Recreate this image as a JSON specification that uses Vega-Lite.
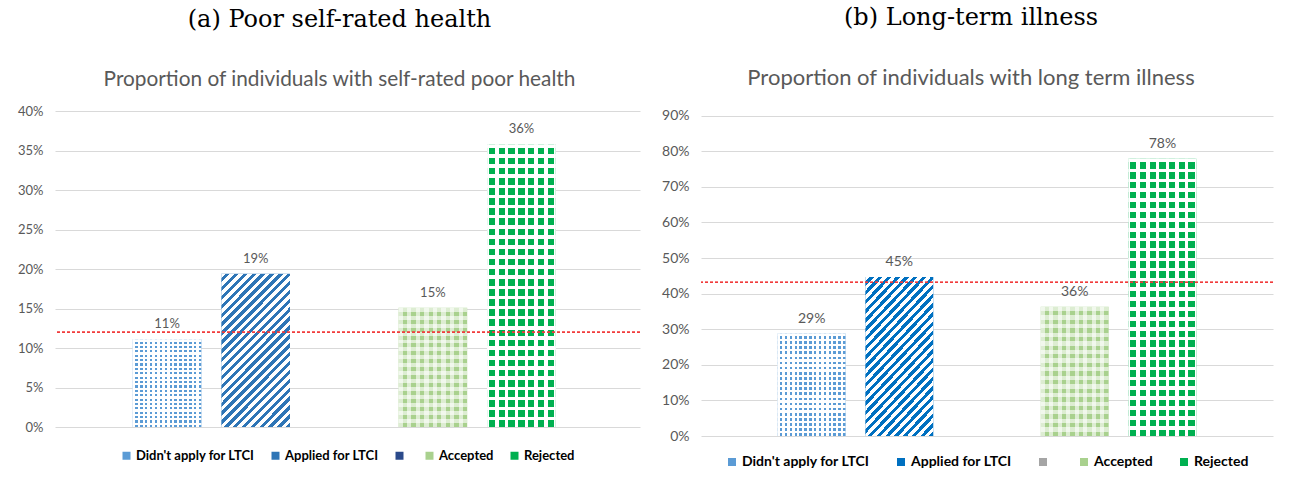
{
  "$schema": "https://vega.github.io/schema/vega-lite/v6.json",
  "padding": {"left": 17, "top": 5, "right": 5, "bottom": 5},
  "background": "#ffffff",
  "spacing": 20,
  "datasets": {
    "a": [
      {"group": "Didn't apply for LTCI", "value": 0.111},
      {"group": "Applied for LTCI", "value": 0.194},
      {"group": "Accepted", "value": 0.151},
      {"group": "Rejected", "value": 0.358}
    ],
    "b": [
      {"group": "Didn't apply for LTCI", "value": 0.288},
      {"group": "Applied for LTCI", "value": 0.447},
      {"group": "Accepted", "value": 0.363},
      {"group": "Rejected", "value": 0.779}
    ]
  },
  "hconcat": [
    {
      "width": 585,
      "height": 316,
      "title": {"text": "(a) Poor self-rated health", "subtitle": "Proportion of individuals with self-rated poor health", "dx": -8, "offset": 15},
      "data": {"name": "a"},
      "layer": [
        {
          "encoding": {
            "x": {"field": "group", "type": "nominal", "scale": {"domain": ["Didn't apply for LTCI", "Applied for LTCI", " ", "Accepted", "Rejected"], "paddingInner": 0.225, "paddingOuter": 0.914, "align": 0.48}, "axis": null},
            "y": {"field": "value", "type": "quantitative", "scale": {"domain": [0, 0.4], "nice": false}, "axis": {"values": [0, 0.05, 0.1, 0.15, 0.2, 0.25, 0.3, 0.35, 0.4], "format": ".0%", "labelOverlap": false}}
          },
          "layer": [
            {"mark": {"type": "bar"}, "encoding": {"color": {"field": "group", "type": "nominal", "scale": {"domain": ["Didn't apply for LTCI", "Applied for LTCI", " ", "Accepted", "Rejected"], "range": ["#5b9bd5", "#2e75b6", "#2b4a8b", "#a9d18e", "#00b050"]}, "legend": {"title": null}}}},
            {"transform": [{"filter": "datum.group === \"Didn't apply for LTCI\""}], "mark": {"type": "bar", "fill": {"gradient": "linear", "x1": 0, "y1": 0, "x2": 1, "y2": 0, "stops": [
        {"offset": 0, "color": "#fff"}, {"offset": 0.0357, "color": "#fff"}, {"offset": 0.0357, "color": "#fff0"}, {"offset": 0.0714, "color": "#fff0"},
        {"offset": 0.0714, "color": "#fff"}, {"offset": 0.1071, "color": "#fff"}, {"offset": 0.1071, "color": "#fff0"}, {"offset": 0.1429, "color": "#fff0"},
        {"offset": 0.1429, "color": "#fff"}, {"offset": 0.1786, "color": "#fff"}, {"offset": 0.1786, "color": "#fff0"}, {"offset": 0.2143, "color": "#fff0"},
        {"offset": 0.2143, "color": "#fff"}, {"offset": 0.25, "color": "#fff"}, {"offset": 0.25, "color": "#fff0"}, {"offset": 0.2857, "color": "#fff0"},
        {"offset": 0.2857, "color": "#fff"}, {"offset": 0.3214, "color": "#fff"}, {"offset": 0.3214, "color": "#fff0"}, {"offset": 0.3571, "color": "#fff0"},
        {"offset": 0.3571, "color": "#fff"}, {"offset": 0.3929, "color": "#fff"}, {"offset": 0.3929, "color": "#fff0"}, {"offset": 0.4286, "color": "#fff0"},
        {"offset": 0.4286, "color": "#fff"}, {"offset": 0.4643, "color": "#fff"}, {"offset": 0.4643, "color": "#fff0"}, {"offset": 0.5, "color": "#fff0"},
        {"offset": 0.5, "color": "#fff"}, {"offset": 0.5357, "color": "#fff"}, {"offset": 0.5357, "color": "#fff0"}, {"offset": 0.5714, "color": "#fff0"},
        {"offset": 0.5714, "color": "#fff"}, {"offset": 0.6071, "color": "#fff"}, {"offset": 0.6071, "color": "#fff0"}, {"offset": 0.6429, "color": "#fff0"},
        {"offset": 0.6429, "color": "#fff"}, {"offset": 0.6786, "color": "#fff"}, {"offset": 0.6786, "color": "#fff0"}, {"offset": 0.7143, "color": "#fff0"},
        {"offset": 0.7143, "color": "#fff"}, {"offset": 0.75, "color": "#fff"}, {"offset": 0.75, "color": "#fff0"}, {"offset": 0.7857, "color": "#fff0"},
        {"offset": 0.7857, "color": "#fff"}, {"offset": 0.8214, "color": "#fff"}, {"offset": 0.8214, "color": "#fff0"}, {"offset": 0.8571, "color": "#fff0"},
        {"offset": 0.8571, "color": "#fff"}, {"offset": 0.8929, "color": "#fff"}, {"offset": 0.8929, "color": "#fff0"}, {"offset": 0.9286, "color": "#fff0"},
        {"offset": 0.9286, "color": "#fff"}, {"offset": 0.9643, "color": "#fff"}, {"offset": 0.9643, "color": "#fff0"}, {"offset": 1, "color": "#fff0"}
      ]}}},
            {"transform": [{"filter": "datum.group === \"Didn't apply for LTCI\""}], "mark": {"type": "bar", "fill": {"gradient": "linear", "x1": 0, "y1": 0, "x2": 0, "y2": 1, "stops": [
        {"offset": 0, "color": "#fff"}, {"offset": 0.025, "color": "#fff"}, {"offset": 0.025, "color": "#fff0"}, {"offset": 0.05, "color": "#fff0"},
        {"offset": 0.05, "color": "#fff"}, {"offset": 0.075, "color": "#fff"}, {"offset": 0.075, "color": "#fff0"}, {"offset": 0.1, "color": "#fff0"},
        {"offset": 0.1, "color": "#fff"}, {"offset": 0.125, "color": "#fff"}, {"offset": 0.125, "color": "#fff0"}, {"offset": 0.15, "color": "#fff0"},
        {"offset": 0.15, "color": "#fff"}, {"offset": 0.175, "color": "#fff"}, {"offset": 0.175, "color": "#fff0"}, {"offset": 0.2, "color": "#fff0"},
        {"offset": 0.2, "color": "#fff"}, {"offset": 0.225, "color": "#fff"}, {"offset": 0.225, "color": "#fff0"}, {"offset": 0.25, "color": "#fff0"},
        {"offset": 0.25, "color": "#fff"}, {"offset": 0.275, "color": "#fff"}, {"offset": 0.275, "color": "#fff0"}, {"offset": 0.3, "color": "#fff0"},
        {"offset": 0.3, "color": "#fff"}, {"offset": 0.325, "color": "#fff"}, {"offset": 0.325, "color": "#fff0"}, {"offset": 0.35, "color": "#fff0"},
        {"offset": 0.35, "color": "#fff"}, {"offset": 0.375, "color": "#fff"}, {"offset": 0.375, "color": "#fff0"}, {"offset": 0.4, "color": "#fff0"},
        {"offset": 0.4, "color": "#fff"}, {"offset": 0.425, "color": "#fff"}, {"offset": 0.425, "color": "#fff0"}, {"offset": 0.45, "color": "#fff0"},
        {"offset": 0.45, "color": "#fff"}, {"offset": 0.475, "color": "#fff"}, {"offset": 0.475, "color": "#fff0"}, {"offset": 0.5, "color": "#fff0"},
        {"offset": 0.5, "color": "#fff"}, {"offset": 0.525, "color": "#fff"}, {"offset": 0.525, "color": "#fff0"}, {"offset": 0.55, "color": "#fff0"},
        {"offset": 0.55, "color": "#fff"}, {"offset": 0.575, "color": "#fff"}, {"offset": 0.575, "color": "#fff0"}, {"offset": 0.6, "color": "#fff0"},
        {"offset": 0.6, "color": "#fff"}, {"offset": 0.625, "color": "#fff"}, {"offset": 0.625, "color": "#fff0"}, {"offset": 0.65, "color": "#fff0"},
        {"offset": 0.65, "color": "#fff"}, {"offset": 0.675, "color": "#fff"}, {"offset": 0.675, "color": "#fff0"}, {"offset": 0.7, "color": "#fff0"},
        {"offset": 0.7, "color": "#fff"}, {"offset": 0.725, "color": "#fff"}, {"offset": 0.725, "color": "#fff0"}, {"offset": 0.75, "color": "#fff0"},
        {"offset": 0.75, "color": "#fff"}, {"offset": 0.775, "color": "#fff"}, {"offset": 0.775, "color": "#fff0"}, {"offset": 0.8, "color": "#fff0"},
        {"offset": 0.8, "color": "#fff"}, {"offset": 0.825, "color": "#fff"}, {"offset": 0.825, "color": "#fff0"}, {"offset": 0.85, "color": "#fff0"},
        {"offset": 0.85, "color": "#fff"}, {"offset": 0.875, "color": "#fff"}, {"offset": 0.875, "color": "#fff0"}, {"offset": 0.9, "color": "#fff0"},
        {"offset": 0.9, "color": "#fff"}, {"offset": 0.925, "color": "#fff"}, {"offset": 0.925, "color": "#fff0"}, {"offset": 0.95, "color": "#fff0"},
        {"offset": 0.95, "color": "#fff"}, {"offset": 0.975, "color": "#fff"}, {"offset": 0.975, "color": "#fff0"}, {"offset": 1, "color": "#fff0"}
      ]}}},
            {"transform": [{"filter": "datum.group === 'Applied for LTCI'"}], "mark": {"type": "bar", "fill": {"gradient": "linear", "x1": 0, "y1": 0, "x2": 0.543, "y2": 1.206, "stops": [
        {"offset": 0, "color": "#fff"}, {"offset": 0.02, "color": "#fff"}, {"offset": 0.02, "color": "#fff0"}, {"offset": 0.04, "color": "#fff0"},
        {"offset": 0.04, "color": "#fff"}, {"offset": 0.06, "color": "#fff"}, {"offset": 0.06, "color": "#fff0"}, {"offset": 0.08, "color": "#fff0"},
        {"offset": 0.08, "color": "#fff"}, {"offset": 0.10, "color": "#fff"}, {"offset": 0.10, "color": "#fff0"}, {"offset": 0.12, "color": "#fff0"},
        {"offset": 0.12, "color": "#fff"}, {"offset": 0.14, "color": "#fff"}, {"offset": 0.14, "color": "#fff0"}, {"offset": 0.16, "color": "#fff0"},
        {"offset": 0.16, "color": "#fff"}, {"offset": 0.18, "color": "#fff"}, {"offset": 0.18, "color": "#fff0"}, {"offset": 0.20, "color": "#fff0"},
        {"offset": 0.20, "color": "#fff"}, {"offset": 0.22, "color": "#fff"}, {"offset": 0.22, "color": "#fff0"}, {"offset": 0.24, "color": "#fff0"},
        {"offset": 0.24, "color": "#fff"}, {"offset": 0.26, "color": "#fff"}, {"offset": 0.26, "color": "#fff0"}, {"offset": 0.28, "color": "#fff0"},
        {"offset": 0.28, "color": "#fff"}, {"offset": 0.30, "color": "#fff"}, {"offset": 0.30, "color": "#fff0"}, {"offset": 0.32, "color": "#fff0"},
        {"offset": 0.32, "color": "#fff"}, {"offset": 0.34, "color": "#fff"}, {"offset": 0.34, "color": "#fff0"}, {"offset": 0.36, "color": "#fff0"},
        {"offset": 0.36, "color": "#fff"}, {"offset": 0.38, "color": "#fff"}, {"offset": 0.38, "color": "#fff0"}, {"offset": 0.40, "color": "#fff0"},
        {"offset": 0.40, "color": "#fff"}, {"offset": 0.42, "color": "#fff"}, {"offset": 0.42, "color": "#fff0"}, {"offset": 0.44, "color": "#fff0"},
        {"offset": 0.44, "color": "#fff"}, {"offset": 0.46, "color": "#fff"}, {"offset": 0.46, "color": "#fff0"}, {"offset": 0.48, "color": "#fff0"},
        {"offset": 0.48, "color": "#fff"}, {"offset": 0.50, "color": "#fff"}, {"offset": 0.50, "color": "#fff0"}, {"offset": 0.52, "color": "#fff0"},
        {"offset": 0.52, "color": "#fff"}, {"offset": 0.54, "color": "#fff"}, {"offset": 0.54, "color": "#fff0"}, {"offset": 0.56, "color": "#fff0"},
        {"offset": 0.56, "color": "#fff"}, {"offset": 0.58, "color": "#fff"}, {"offset": 0.58, "color": "#fff0"}, {"offset": 0.60, "color": "#fff0"},
        {"offset": 0.60, "color": "#fff"}, {"offset": 0.62, "color": "#fff"}, {"offset": 0.62, "color": "#fff0"}, {"offset": 0.64, "color": "#fff0"},
        {"offset": 0.64, "color": "#fff"}, {"offset": 0.66, "color": "#fff"}, {"offset": 0.66, "color": "#fff0"}, {"offset": 0.68, "color": "#fff0"},
        {"offset": 0.68, "color": "#fff"}, {"offset": 0.70, "color": "#fff"}, {"offset": 0.70, "color": "#fff0"}, {"offset": 0.72, "color": "#fff0"},
        {"offset": 0.72, "color": "#fff"}, {"offset": 0.74, "color": "#fff"}, {"offset": 0.74, "color": "#fff0"}, {"offset": 0.76, "color": "#fff0"},
        {"offset": 0.76, "color": "#fff"}, {"offset": 0.78, "color": "#fff"}, {"offset": 0.78, "color": "#fff0"}, {"offset": 0.80, "color": "#fff0"},
        {"offset": 0.80, "color": "#fff"}, {"offset": 0.82, "color": "#fff"}, {"offset": 0.82, "color": "#fff0"}, {"offset": 0.84, "color": "#fff0"},
        {"offset": 0.84, "color": "#fff"}, {"offset": 0.86, "color": "#fff"}, {"offset": 0.86, "color": "#fff0"}, {"offset": 0.88, "color": "#fff0"},
        {"offset": 0.88, "color": "#fff"}, {"offset": 0.90, "color": "#fff"}, {"offset": 0.90, "color": "#fff0"}, {"offset": 0.92, "color": "#fff0"},
        {"offset": 0.92, "color": "#fff"}, {"offset": 0.94, "color": "#fff"}, {"offset": 0.94, "color": "#fff0"}, {"offset": 0.96, "color": "#fff0"},
        {"offset": 0.96, "color": "#fff"}, {"offset": 0.98, "color": "#fff"}, {"offset": 0.98, "color": "#fff0"}, {"offset": 1, "color": "#fff0"}
      ]}}},
            {"transform": [{"filter": "datum.group === 'Accepted'"}], "mark": {"type": "bar", "fill": {"gradient": "linear", "x1": 0, "y1": 0, "x2": 1, "y2": 0, "stops": [
        {"offset": 0, "color": "#fff9"}, {"offset": 0.0625, "color": "#fff9"}, {"offset": 0.0625, "color": "#fff0"}, {"offset": 0.125, "color": "#fff0"},
        {"offset": 0.125, "color": "#fff9"}, {"offset": 0.1875, "color": "#fff9"}, {"offset": 0.1875, "color": "#fff0"}, {"offset": 0.25, "color": "#fff0"},
        {"offset": 0.25, "color": "#fff9"}, {"offset": 0.3125, "color": "#fff9"}, {"offset": 0.3125, "color": "#fff0"}, {"offset": 0.375, "color": "#fff0"},
        {"offset": 0.375, "color": "#fff9"}, {"offset": 0.4375, "color": "#fff9"}, {"offset": 0.4375, "color": "#fff0"}, {"offset": 0.5, "color": "#fff0"},
        {"offset": 0.5, "color": "#fff9"}, {"offset": 0.5625, "color": "#fff9"}, {"offset": 0.5625, "color": "#fff0"}, {"offset": 0.625, "color": "#fff0"},
        {"offset": 0.625, "color": "#fff9"}, {"offset": 0.6875, "color": "#fff9"}, {"offset": 0.6875, "color": "#fff0"}, {"offset": 0.75, "color": "#fff0"},
        {"offset": 0.75, "color": "#fff9"}, {"offset": 0.8125, "color": "#fff9"}, {"offset": 0.8125, "color": "#fff0"}, {"offset": 0.875, "color": "#fff0"},
        {"offset": 0.875, "color": "#fff9"}, {"offset": 0.9375, "color": "#fff9"}, {"offset": 0.9375, "color": "#fff0"}, {"offset": 1, "color": "#fff0"}
      ]}}},
            {"transform": [{"filter": "datum.group === 'Accepted'"}], "mark": {"type": "bar", "fill": {"gradient": "linear", "x1": 0, "y1": 0, "x2": 0, "y2": 1, "stops": [
        {"offset": 0, "color": "#fff9"}, {"offset": 0.0333, "color": "#fff9"}, {"offset": 0.0333, "color": "#fff0"}, {"offset": 0.0667, "color": "#fff0"},
        {"offset": 0.0667, "color": "#fff9"}, {"offset": 0.1, "color": "#fff9"}, {"offset": 0.1, "color": "#fff0"}, {"offset": 0.1333, "color": "#fff0"},
        {"offset": 0.1333, "color": "#fff9"}, {"offset": 0.1667, "color": "#fff9"}, {"offset": 0.1667, "color": "#fff0"}, {"offset": 0.2, "color": "#fff0"},
        {"offset": 0.2, "color": "#fff9"}, {"offset": 0.2333, "color": "#fff9"}, {"offset": 0.2333, "color": "#fff0"}, {"offset": 0.2667, "color": "#fff0"},
        {"offset": 0.2667, "color": "#fff9"}, {"offset": 0.3, "color": "#fff9"}, {"offset": 0.3, "color": "#fff0"}, {"offset": 0.3333, "color": "#fff0"},
        {"offset": 0.3333, "color": "#fff9"}, {"offset": 0.3667, "color": "#fff9"}, {"offset": 0.3667, "color": "#fff0"}, {"offset": 0.4, "color": "#fff0"},
        {"offset": 0.4, "color": "#fff9"}, {"offset": 0.4333, "color": "#fff9"}, {"offset": 0.4333, "color": "#fff0"}, {"offset": 0.4667, "color": "#fff0"},
        {"offset": 0.4667, "color": "#fff9"}, {"offset": 0.5, "color": "#fff9"}, {"offset": 0.5, "color": "#fff0"}, {"offset": 0.5333, "color": "#fff0"},
        {"offset": 0.5333, "color": "#fff9"}, {"offset": 0.5667, "color": "#fff9"}, {"offset": 0.5667, "color": "#fff0"}, {"offset": 0.6, "color": "#fff0"},
        {"offset": 0.6, "color": "#fff9"}, {"offset": 0.6333, "color": "#fff9"}, {"offset": 0.6333, "color": "#fff0"}, {"offset": 0.6667, "color": "#fff0"},
        {"offset": 0.6667, "color": "#fff9"}, {"offset": 0.7, "color": "#fff9"}, {"offset": 0.7, "color": "#fff0"}, {"offset": 0.7333, "color": "#fff0"},
        {"offset": 0.7333, "color": "#fff9"}, {"offset": 0.7667, "color": "#fff9"}, {"offset": 0.7667, "color": "#fff0"}, {"offset": 0.8, "color": "#fff0"},
        {"offset": 0.8, "color": "#fff9"}, {"offset": 0.8333, "color": "#fff9"}, {"offset": 0.8333, "color": "#fff0"}, {"offset": 0.8667, "color": "#fff0"},
        {"offset": 0.8667, "color": "#fff9"}, {"offset": 0.9, "color": "#fff9"}, {"offset": 0.9, "color": "#fff0"}, {"offset": 0.9333, "color": "#fff0"},
        {"offset": 0.9333, "color": "#fff9"}, {"offset": 0.9667, "color": "#fff9"}, {"offset": 0.9667, "color": "#fff0"}, {"offset": 1, "color": "#fff0"}
      ]}}},
            {"transform": [{"filter": "datum.group === 'Rejected'"}], "mark": {"type": "bar", "fill": {"gradient": "linear", "x1": 0, "y1": 0, "x2": 1, "y2": 0, "stops": [
        {"offset": 0, "color": "#fff"}, {"offset": 0.025, "color": "#fff"}, {"offset": 0.025, "color": "#fff0"}, {"offset": 0.1179, "color": "#fff0"},
        {"offset": 0.1179, "color": "#fff"}, {"offset": 0.1679, "color": "#fff"}, {"offset": 0.1679, "color": "#fff0"}, {"offset": 0.2607, "color": "#fff0"},
        {"offset": 0.2607, "color": "#fff"}, {"offset": 0.3107, "color": "#fff"}, {"offset": 0.3107, "color": "#fff0"}, {"offset": 0.4036, "color": "#fff0"},
        {"offset": 0.4036, "color": "#fff"}, {"offset": 0.4536, "color": "#fff"}, {"offset": 0.4536, "color": "#fff0"}, {"offset": 0.5464, "color": "#fff0"},
        {"offset": 0.5464, "color": "#fff"}, {"offset": 0.5964, "color": "#fff"}, {"offset": 0.5964, "color": "#fff0"}, {"offset": 0.6893, "color": "#fff0"},
        {"offset": 0.6893, "color": "#fff"}, {"offset": 0.7393, "color": "#fff"}, {"offset": 0.7393, "color": "#fff0"}, {"offset": 0.8321, "color": "#fff0"},
        {"offset": 0.8321, "color": "#fff"}, {"offset": 0.8821, "color": "#fff"}, {"offset": 0.8821, "color": "#fff0"}, {"offset": 0.975, "color": "#fff0"},
        {"offset": 0.975, "color": "#fff"}, {"offset": 1, "color": "#fff"}
      ]}}},
            {"transform": [{"filter": "datum.group === 'Rejected'"}], "mark": {"type": "bar", "fill": {"gradient": "linear", "x1": 0, "y1": 0, "x2": 0, "y2": 1, "stops": [
        {"offset": 0, "color": "#fff"}, {"offset": 0.0125, "color": "#fff"}, {"offset": 0.0125, "color": "#fff0"}, {"offset": 0.0357, "color": "#fff0"},
        {"offset": 0.0357, "color": "#fff"}, {"offset": 0.0482, "color": "#fff"}, {"offset": 0.0482, "color": "#fff0"}, {"offset": 0.0714, "color": "#fff0"},
        {"offset": 0.0714, "color": "#fff"}, {"offset": 0.0839, "color": "#fff"}, {"offset": 0.0839, "color": "#fff0"}, {"offset": 0.1071, "color": "#fff0"},
        {"offset": 0.1071, "color": "#fff"}, {"offset": 0.1196, "color": "#fff"}, {"offset": 0.1196, "color": "#fff0"}, {"offset": 0.1429, "color": "#fff0"},
        {"offset": 0.1429, "color": "#fff"}, {"offset": 0.1554, "color": "#fff"}, {"offset": 0.1554, "color": "#fff0"}, {"offset": 0.1786, "color": "#fff0"},
        {"offset": 0.1786, "color": "#fff"}, {"offset": 0.1911, "color": "#fff"}, {"offset": 0.1911, "color": "#fff0"}, {"offset": 0.2143, "color": "#fff0"},
        {"offset": 0.2143, "color": "#fff"}, {"offset": 0.2268, "color": "#fff"}, {"offset": 0.2268, "color": "#fff0"}, {"offset": 0.25, "color": "#fff0"},
        {"offset": 0.25, "color": "#fff"}, {"offset": 0.2625, "color": "#fff"}, {"offset": 0.2625, "color": "#fff0"}, {"offset": 0.2857, "color": "#fff0"},
        {"offset": 0.2857, "color": "#fff"}, {"offset": 0.2982, "color": "#fff"}, {"offset": 0.2982, "color": "#fff0"}, {"offset": 0.3214, "color": "#fff0"},
        {"offset": 0.3214, "color": "#fff"}, {"offset": 0.3339, "color": "#fff"}, {"offset": 0.3339, "color": "#fff0"}, {"offset": 0.3571, "color": "#fff0"},
        {"offset": 0.3571, "color": "#fff"}, {"offset": 0.3696, "color": "#fff"}, {"offset": 0.3696, "color": "#fff0"}, {"offset": 0.3929, "color": "#fff0"},
        {"offset": 0.3929, "color": "#fff"}, {"offset": 0.4054, "color": "#fff"}, {"offset": 0.4054, "color": "#fff0"}, {"offset": 0.4286, "color": "#fff0"},
        {"offset": 0.4286, "color": "#fff"}, {"offset": 0.4411, "color": "#fff"}, {"offset": 0.4411, "color": "#fff0"}, {"offset": 0.4643, "color": "#fff0"},
        {"offset": 0.4643, "color": "#fff"}, {"offset": 0.4768, "color": "#fff"}, {"offset": 0.4768, "color": "#fff0"}, {"offset": 0.5, "color": "#fff0"},
        {"offset": 0.5, "color": "#fff"}, {"offset": 0.5125, "color": "#fff"}, {"offset": 0.5125, "color": "#fff0"}, {"offset": 0.5357, "color": "#fff0"},
        {"offset": 0.5357, "color": "#fff"}, {"offset": 0.5482, "color": "#fff"}, {"offset": 0.5482, "color": "#fff0"}, {"offset": 0.5714, "color": "#fff0"},
        {"offset": 0.5714, "color": "#fff"}, {"offset": 0.5839, "color": "#fff"}, {"offset": 0.5839, "color": "#fff0"}, {"offset": 0.6071, "color": "#fff0"},
        {"offset": 0.6071, "color": "#fff"}, {"offset": 0.6196, "color": "#fff"}, {"offset": 0.6196, "color": "#fff0"}, {"offset": 0.6429, "color": "#fff0"},
        {"offset": 0.6429, "color": "#fff"}, {"offset": 0.6554, "color": "#fff"}, {"offset": 0.6554, "color": "#fff0"}, {"offset": 0.6786, "color": "#fff0"},
        {"offset": 0.6786, "color": "#fff"}, {"offset": 0.6911, "color": "#fff"}, {"offset": 0.6911, "color": "#fff0"}, {"offset": 0.7143, "color": "#fff0"},
        {"offset": 0.7143, "color": "#fff"}, {"offset": 0.7268, "color": "#fff"}, {"offset": 0.7268, "color": "#fff0"}, {"offset": 0.75, "color": "#fff0"},
        {"offset": 0.75, "color": "#fff"}, {"offset": 0.7625, "color": "#fff"}, {"offset": 0.7625, "color": "#fff0"}, {"offset": 0.7857, "color": "#fff0"},
        {"offset": 0.7857, "color": "#fff"}, {"offset": 0.7982, "color": "#fff"}, {"offset": 0.7982, "color": "#fff0"}, {"offset": 0.8214, "color": "#fff0"},
        {"offset": 0.8214, "color": "#fff"}, {"offset": 0.8339, "color": "#fff"}, {"offset": 0.8339, "color": "#fff0"}, {"offset": 0.8571, "color": "#fff0"},
        {"offset": 0.8571, "color": "#fff"}, {"offset": 0.8696, "color": "#fff"}, {"offset": 0.8696, "color": "#fff0"}, {"offset": 0.8929, "color": "#fff0"},
        {"offset": 0.8929, "color": "#fff"}, {"offset": 0.9054, "color": "#fff"}, {"offset": 0.9054, "color": "#fff0"}, {"offset": 0.9286, "color": "#fff0"},
        {"offset": 0.9286, "color": "#fff"}, {"offset": 0.9411, "color": "#fff"}, {"offset": 0.9411, "color": "#fff0"}, {"offset": 0.9643, "color": "#fff0"},
        {"offset": 0.9643, "color": "#fff"}, {"offset": 0.9768, "color": "#fff"}, {"offset": 0.9768, "color": "#fff0"}, {"offset": 1, "color": "#fff0"}
      ]}}},
            {"mark": {"type": "text", "baseline": "bottom", "dy": -8, "font": "Lato", "fontSize": 13, "color": "#595959"}, "encoding": {"text": {"field": "value", "type": "quantitative", "format": ".0%"}}}
          ]
        },
        {"mark": {"type": "rule", "color": "#f03c3c", "strokeDash": [3, 2], "strokeWidth": 1}, "encoding": {"y": {"datum": 0.12, "type": "quantitative", "scale": {"domain": [0, 0.4], "nice": false}, "axis": {"values": [0, 0.05, 0.1, 0.15, 0.2, 0.25, 0.3, 0.35, 0.4], "format": ".0%", "labelOverlap": false}}}}
      ]
    },
    {
      "width": 572,
      "height": 325,
      "title": {"text": "(b) Long-term illness", "subtitle": "Proportion of individuals with long term illness", "dx": -16, "offset": 20, "subtitleFontSize": 22},
      "data": {"name": "b"},
      "layer": [
        {
          "encoding": {
            "x": {"field": "group", "type": "nominal", "scale": {"domain": ["Didn't apply for LTCI", "Applied for LTCI", " ", "Accepted", "Rejected"], "paddingInner": 0.225, "paddingOuter": 0.874}, "axis": null},
            "y": {"field": "value", "type": "quantitative", "scale": {"domain": [0, 0.9133], "nice": false}, "axis": {"values": [0, 0.1, 0.2, 0.3, 0.4, 0.5, 0.6, 0.7, 0.8, 0.9], "format": ".0%", "labelOverlap": false, "labelFontSize": 14}}
          },
          "layer": [
            {"mark": {"type": "bar"}, "encoding": {"color": {"field": "group", "type": "nominal", "scale": {"domain": ["Didn't apply for LTCI", "Applied for LTCI", " ", "Accepted", "Rejected"], "range": ["#5b9bd5", "#0070c0", "#a5a5a5", "#a9d18e", "#00b050"]}, "legend": {"title": null, "labelFontSize": 14, "columnPadding": 24, "offset": 19}}}},
            {"transform": [{"filter": "datum.group === \"Didn't apply for LTCI\""}], "mark": {"type": "bar", "fill": {"gradient": "linear", "x1": 0, "y1": 0, "x2": 1, "y2": 0, "stops": [
        {"offset": 0, "color": "#fff"}, {"offset": 0.0357, "color": "#fff"}, {"offset": 0.0357, "color": "#fff0"}, {"offset": 0.0714, "color": "#fff0"},
        {"offset": 0.0714, "color": "#fff"}, {"offset": 0.1071, "color": "#fff"}, {"offset": 0.1071, "color": "#fff0"}, {"offset": 0.1429, "color": "#fff0"},
        {"offset": 0.1429, "color": "#fff"}, {"offset": 0.1786, "color": "#fff"}, {"offset": 0.1786, "color": "#fff0"}, {"offset": 0.2143, "color": "#fff0"},
        {"offset": 0.2143, "color": "#fff"}, {"offset": 0.25, "color": "#fff"}, {"offset": 0.25, "color": "#fff0"}, {"offset": 0.2857, "color": "#fff0"},
        {"offset": 0.2857, "color": "#fff"}, {"offset": 0.3214, "color": "#fff"}, {"offset": 0.3214, "color": "#fff0"}, {"offset": 0.3571, "color": "#fff0"},
        {"offset": 0.3571, "color": "#fff"}, {"offset": 0.3929, "color": "#fff"}, {"offset": 0.3929, "color": "#fff0"}, {"offset": 0.4286, "color": "#fff0"},
        {"offset": 0.4286, "color": "#fff"}, {"offset": 0.4643, "color": "#fff"}, {"offset": 0.4643, "color": "#fff0"}, {"offset": 0.5, "color": "#fff0"},
        {"offset": 0.5, "color": "#fff"}, {"offset": 0.5357, "color": "#fff"}, {"offset": 0.5357, "color": "#fff0"}, {"offset": 0.5714, "color": "#fff0"},
        {"offset": 0.5714, "color": "#fff"}, {"offset": 0.6071, "color": "#fff"}, {"offset": 0.6071, "color": "#fff0"}, {"offset": 0.6429, "color": "#fff0"},
        {"offset": 0.6429, "color": "#fff"}, {"offset": 0.6786, "color": "#fff"}, {"offset": 0.6786, "color": "#fff0"}, {"offset": 0.7143, "color": "#fff0"},
        {"offset": 0.7143, "color": "#fff"}, {"offset": 0.75, "color": "#fff"}, {"offset": 0.75, "color": "#fff0"}, {"offset": 0.7857, "color": "#fff0"},
        {"offset": 0.7857, "color": "#fff"}, {"offset": 0.8214, "color": "#fff"}, {"offset": 0.8214, "color": "#fff0"}, {"offset": 0.8571, "color": "#fff0"},
        {"offset": 0.8571, "color": "#fff"}, {"offset": 0.8929, "color": "#fff"}, {"offset": 0.8929, "color": "#fff0"}, {"offset": 0.9286, "color": "#fff0"},
        {"offset": 0.9286, "color": "#fff"}, {"offset": 0.9643, "color": "#fff"}, {"offset": 0.9643, "color": "#fff0"}, {"offset": 1, "color": "#fff0"}
      ]}}},
            {"transform": [{"filter": "datum.group === \"Didn't apply for LTCI\""}], "mark": {"type": "bar", "fill": {"gradient": "linear", "x1": 0, "y1": 0, "x2": 0, "y2": 1, "stops": [
        {"offset": 0, "color": "#fff"}, {"offset": 0.025, "color": "#fff"}, {"offset": 0.025, "color": "#fff0"}, {"offset": 0.05, "color": "#fff0"},
        {"offset": 0.05, "color": "#fff"}, {"offset": 0.075, "color": "#fff"}, {"offset": 0.075, "color": "#fff0"}, {"offset": 0.1, "color": "#fff0"},
        {"offset": 0.1, "color": "#fff"}, {"offset": 0.125, "color": "#fff"}, {"offset": 0.125, "color": "#fff0"}, {"offset": 0.15, "color": "#fff0"},
        {"offset": 0.15, "color": "#fff"}, {"offset": 0.175, "color": "#fff"}, {"offset": 0.175, "color": "#fff0"}, {"offset": 0.2, "color": "#fff0"},
        {"offset": 0.2, "color": "#fff"}, {"offset": 0.225, "color": "#fff"}, {"offset": 0.225, "color": "#fff0"}, {"offset": 0.25, "color": "#fff0"},
        {"offset": 0.25, "color": "#fff"}, {"offset": 0.275, "color": "#fff"}, {"offset": 0.275, "color": "#fff0"}, {"offset": 0.3, "color": "#fff0"},
        {"offset": 0.3, "color": "#fff"}, {"offset": 0.325, "color": "#fff"}, {"offset": 0.325, "color": "#fff0"}, {"offset": 0.35, "color": "#fff0"},
        {"offset": 0.35, "color": "#fff"}, {"offset": 0.375, "color": "#fff"}, {"offset": 0.375, "color": "#fff0"}, {"offset": 0.4, "color": "#fff0"},
        {"offset": 0.4, "color": "#fff"}, {"offset": 0.425, "color": "#fff"}, {"offset": 0.425, "color": "#fff0"}, {"offset": 0.45, "color": "#fff0"},
        {"offset": 0.45, "color": "#fff"}, {"offset": 0.475, "color": "#fff"}, {"offset": 0.475, "color": "#fff0"}, {"offset": 0.5, "color": "#fff0"},
        {"offset": 0.5, "color": "#fff"}, {"offset": 0.525, "color": "#fff"}, {"offset": 0.525, "color": "#fff0"}, {"offset": 0.55, "color": "#fff0"},
        {"offset": 0.55, "color": "#fff"}, {"offset": 0.575, "color": "#fff"}, {"offset": 0.575, "color": "#fff0"}, {"offset": 0.6, "color": "#fff0"},
        {"offset": 0.6, "color": "#fff"}, {"offset": 0.625, "color": "#fff"}, {"offset": 0.625, "color": "#fff0"}, {"offset": 0.65, "color": "#fff0"},
        {"offset": 0.65, "color": "#fff"}, {"offset": 0.675, "color": "#fff"}, {"offset": 0.675, "color": "#fff0"}, {"offset": 0.7, "color": "#fff0"},
        {"offset": 0.7, "color": "#fff"}, {"offset": 0.725, "color": "#fff"}, {"offset": 0.725, "color": "#fff0"}, {"offset": 0.75, "color": "#fff0"},
        {"offset": 0.75, "color": "#fff"}, {"offset": 0.775, "color": "#fff"}, {"offset": 0.775, "color": "#fff0"}, {"offset": 0.8, "color": "#fff0"},
        {"offset": 0.8, "color": "#fff"}, {"offset": 0.825, "color": "#fff"}, {"offset": 0.825, "color": "#fff0"}, {"offset": 0.85, "color": "#fff0"},
        {"offset": 0.85, "color": "#fff"}, {"offset": 0.875, "color": "#fff"}, {"offset": 0.875, "color": "#fff0"}, {"offset": 0.9, "color": "#fff0"},
        {"offset": 0.9, "color": "#fff"}, {"offset": 0.925, "color": "#fff"}, {"offset": 0.925, "color": "#fff0"}, {"offset": 0.95, "color": "#fff0"},
        {"offset": 0.95, "color": "#fff"}, {"offset": 0.975, "color": "#fff"}, {"offset": 0.975, "color": "#fff0"}, {"offset": 1, "color": "#fff0"}
      ]}}},
            {"transform": [{"filter": "datum.group === 'Applied for LTCI'"}], "mark": {"type": "bar", "fill": {"gradient": "linear", "x1": 0, "y1": 0, "x2": 0.543, "y2": 1.206, "stops": [
        {"offset": 0, "color": "#fff"}, {"offset": 0.02, "color": "#fff"}, {"offset": 0.02, "color": "#fff0"}, {"offset": 0.04, "color": "#fff0"},
        {"offset": 0.04, "color": "#fff"}, {"offset": 0.06, "color": "#fff"}, {"offset": 0.06, "color": "#fff0"}, {"offset": 0.08, "color": "#fff0"},
        {"offset": 0.08, "color": "#fff"}, {"offset": 0.10, "color": "#fff"}, {"offset": 0.10, "color": "#fff0"}, {"offset": 0.12, "color": "#fff0"},
        {"offset": 0.12, "color": "#fff"}, {"offset": 0.14, "color": "#fff"}, {"offset": 0.14, "color": "#fff0"}, {"offset": 0.16, "color": "#fff0"},
        {"offset": 0.16, "color": "#fff"}, {"offset": 0.18, "color": "#fff"}, {"offset": 0.18, "color": "#fff0"}, {"offset": 0.20, "color": "#fff0"},
        {"offset": 0.20, "color": "#fff"}, {"offset": 0.22, "color": "#fff"}, {"offset": 0.22, "color": "#fff0"}, {"offset": 0.24, "color": "#fff0"},
        {"offset": 0.24, "color": "#fff"}, {"offset": 0.26, "color": "#fff"}, {"offset": 0.26, "color": "#fff0"}, {"offset": 0.28, "color": "#fff0"},
        {"offset": 0.28, "color": "#fff"}, {"offset": 0.30, "color": "#fff"}, {"offset": 0.30, "color": "#fff0"}, {"offset": 0.32, "color": "#fff0"},
        {"offset": 0.32, "color": "#fff"}, {"offset": 0.34, "color": "#fff"}, {"offset": 0.34, "color": "#fff0"}, {"offset": 0.36, "color": "#fff0"},
        {"offset": 0.36, "color": "#fff"}, {"offset": 0.38, "color": "#fff"}, {"offset": 0.38, "color": "#fff0"}, {"offset": 0.40, "color": "#fff0"},
        {"offset": 0.40, "color": "#fff"}, {"offset": 0.42, "color": "#fff"}, {"offset": 0.42, "color": "#fff0"}, {"offset": 0.44, "color": "#fff0"},
        {"offset": 0.44, "color": "#fff"}, {"offset": 0.46, "color": "#fff"}, {"offset": 0.46, "color": "#fff0"}, {"offset": 0.48, "color": "#fff0"},
        {"offset": 0.48, "color": "#fff"}, {"offset": 0.50, "color": "#fff"}, {"offset": 0.50, "color": "#fff0"}, {"offset": 0.52, "color": "#fff0"},
        {"offset": 0.52, "color": "#fff"}, {"offset": 0.54, "color": "#fff"}, {"offset": 0.54, "color": "#fff0"}, {"offset": 0.56, "color": "#fff0"},
        {"offset": 0.56, "color": "#fff"}, {"offset": 0.58, "color": "#fff"}, {"offset": 0.58, "color": "#fff0"}, {"offset": 0.60, "color": "#fff0"},
        {"offset": 0.60, "color": "#fff"}, {"offset": 0.62, "color": "#fff"}, {"offset": 0.62, "color": "#fff0"}, {"offset": 0.64, "color": "#fff0"},
        {"offset": 0.64, "color": "#fff"}, {"offset": 0.66, "color": "#fff"}, {"offset": 0.66, "color": "#fff0"}, {"offset": 0.68, "color": "#fff0"},
        {"offset": 0.68, "color": "#fff"}, {"offset": 0.70, "color": "#fff"}, {"offset": 0.70, "color": "#fff0"}, {"offset": 0.72, "color": "#fff0"},
        {"offset": 0.72, "color": "#fff"}, {"offset": 0.74, "color": "#fff"}, {"offset": 0.74, "color": "#fff0"}, {"offset": 0.76, "color": "#fff0"},
        {"offset": 0.76, "color": "#fff"}, {"offset": 0.78, "color": "#fff"}, {"offset": 0.78, "color": "#fff0"}, {"offset": 0.80, "color": "#fff0"},
        {"offset": 0.80, "color": "#fff"}, {"offset": 0.82, "color": "#fff"}, {"offset": 0.82, "color": "#fff0"}, {"offset": 0.84, "color": "#fff0"},
        {"offset": 0.84, "color": "#fff"}, {"offset": 0.86, "color": "#fff"}, {"offset": 0.86, "color": "#fff0"}, {"offset": 0.88, "color": "#fff0"},
        {"offset": 0.88, "color": "#fff"}, {"offset": 0.90, "color": "#fff"}, {"offset": 0.90, "color": "#fff0"}, {"offset": 0.92, "color": "#fff0"},
        {"offset": 0.92, "color": "#fff"}, {"offset": 0.94, "color": "#fff"}, {"offset": 0.94, "color": "#fff0"}, {"offset": 0.96, "color": "#fff0"},
        {"offset": 0.96, "color": "#fff"}, {"offset": 0.98, "color": "#fff"}, {"offset": 0.98, "color": "#fff0"}, {"offset": 1, "color": "#fff0"}
      ]}}},
            {"transform": [{"filter": "datum.group === 'Accepted'"}], "mark": {"type": "bar", "fill": {"gradient": "linear", "x1": 0, "y1": 0, "x2": 1, "y2": 0, "stops": [
        {"offset": 0, "color": "#fff9"}, {"offset": 0.0625, "color": "#fff9"}, {"offset": 0.0625, "color": "#fff0"}, {"offset": 0.125, "color": "#fff0"},
        {"offset": 0.125, "color": "#fff9"}, {"offset": 0.1875, "color": "#fff9"}, {"offset": 0.1875, "color": "#fff0"}, {"offset": 0.25, "color": "#fff0"},
        {"offset": 0.25, "color": "#fff9"}, {"offset": 0.3125, "color": "#fff9"}, {"offset": 0.3125, "color": "#fff0"}, {"offset": 0.375, "color": "#fff0"},
        {"offset": 0.375, "color": "#fff9"}, {"offset": 0.4375, "color": "#fff9"}, {"offset": 0.4375, "color": "#fff0"}, {"offset": 0.5, "color": "#fff0"},
        {"offset": 0.5, "color": "#fff9"}, {"offset": 0.5625, "color": "#fff9"}, {"offset": 0.5625, "color": "#fff0"}, {"offset": 0.625, "color": "#fff0"},
        {"offset": 0.625, "color": "#fff9"}, {"offset": 0.6875, "color": "#fff9"}, {"offset": 0.6875, "color": "#fff0"}, {"offset": 0.75, "color": "#fff0"},
        {"offset": 0.75, "color": "#fff9"}, {"offset": 0.8125, "color": "#fff9"}, {"offset": 0.8125, "color": "#fff0"}, {"offset": 0.875, "color": "#fff0"},
        {"offset": 0.875, "color": "#fff9"}, {"offset": 0.9375, "color": "#fff9"}, {"offset": 0.9375, "color": "#fff0"}, {"offset": 1, "color": "#fff0"}
      ]}}},
            {"transform": [{"filter": "datum.group === 'Accepted'"}], "mark": {"type": "bar", "fill": {"gradient": "linear", "x1": 0, "y1": 0, "x2": 0, "y2": 1, "stops": [
        {"offset": 0, "color": "#fff9"}, {"offset": 0.0333, "color": "#fff9"}, {"offset": 0.0333, "color": "#fff0"}, {"offset": 0.0667, "color": "#fff0"},
        {"offset": 0.0667, "color": "#fff9"}, {"offset": 0.1, "color": "#fff9"}, {"offset": 0.1, "color": "#fff0"}, {"offset": 0.1333, "color": "#fff0"},
        {"offset": 0.1333, "color": "#fff9"}, {"offset": 0.1667, "color": "#fff9"}, {"offset": 0.1667, "color": "#fff0"}, {"offset": 0.2, "color": "#fff0"},
        {"offset": 0.2, "color": "#fff9"}, {"offset": 0.2333, "color": "#fff9"}, {"offset": 0.2333, "color": "#fff0"}, {"offset": 0.2667, "color": "#fff0"},
        {"offset": 0.2667, "color": "#fff9"}, {"offset": 0.3, "color": "#fff9"}, {"offset": 0.3, "color": "#fff0"}, {"offset": 0.3333, "color": "#fff0"},
        {"offset": 0.3333, "color": "#fff9"}, {"offset": 0.3667, "color": "#fff9"}, {"offset": 0.3667, "color": "#fff0"}, {"offset": 0.4, "color": "#fff0"},
        {"offset": 0.4, "color": "#fff9"}, {"offset": 0.4333, "color": "#fff9"}, {"offset": 0.4333, "color": "#fff0"}, {"offset": 0.4667, "color": "#fff0"},
        {"offset": 0.4667, "color": "#fff9"}, {"offset": 0.5, "color": "#fff9"}, {"offset": 0.5, "color": "#fff0"}, {"offset": 0.5333, "color": "#fff0"},
        {"offset": 0.5333, "color": "#fff9"}, {"offset": 0.5667, "color": "#fff9"}, {"offset": 0.5667, "color": "#fff0"}, {"offset": 0.6, "color": "#fff0"},
        {"offset": 0.6, "color": "#fff9"}, {"offset": 0.6333, "color": "#fff9"}, {"offset": 0.6333, "color": "#fff0"}, {"offset": 0.6667, "color": "#fff0"},
        {"offset": 0.6667, "color": "#fff9"}, {"offset": 0.7, "color": "#fff9"}, {"offset": 0.7, "color": "#fff0"}, {"offset": 0.7333, "color": "#fff0"},
        {"offset": 0.7333, "color": "#fff9"}, {"offset": 0.7667, "color": "#fff9"}, {"offset": 0.7667, "color": "#fff0"}, {"offset": 0.8, "color": "#fff0"},
        {"offset": 0.8, "color": "#fff9"}, {"offset": 0.8333, "color": "#fff9"}, {"offset": 0.8333, "color": "#fff0"}, {"offset": 0.8667, "color": "#fff0"},
        {"offset": 0.8667, "color": "#fff9"}, {"offset": 0.9, "color": "#fff9"}, {"offset": 0.9, "color": "#fff0"}, {"offset": 0.9333, "color": "#fff0"},
        {"offset": 0.9333, "color": "#fff9"}, {"offset": 0.9667, "color": "#fff9"}, {"offset": 0.9667, "color": "#fff0"}, {"offset": 1, "color": "#fff0"}
      ]}}},
            {"transform": [{"filter": "datum.group === 'Rejected'"}], "mark": {"type": "bar", "fill": {"gradient": "linear", "x1": 0, "y1": 0, "x2": 1, "y2": 0, "stops": [
        {"offset": 0, "color": "#fff"}, {"offset": 0.025, "color": "#fff"}, {"offset": 0.025, "color": "#fff0"}, {"offset": 0.1179, "color": "#fff0"},
        {"offset": 0.1179, "color": "#fff"}, {"offset": 0.1679, "color": "#fff"}, {"offset": 0.1679, "color": "#fff0"}, {"offset": 0.2607, "color": "#fff0"},
        {"offset": 0.2607, "color": "#fff"}, {"offset": 0.3107, "color": "#fff"}, {"offset": 0.3107, "color": "#fff0"}, {"offset": 0.4036, "color": "#fff0"},
        {"offset": 0.4036, "color": "#fff"}, {"offset": 0.4536, "color": "#fff"}, {"offset": 0.4536, "color": "#fff0"}, {"offset": 0.5464, "color": "#fff0"},
        {"offset": 0.5464, "color": "#fff"}, {"offset": 0.5964, "color": "#fff"}, {"offset": 0.5964, "color": "#fff0"}, {"offset": 0.6893, "color": "#fff0"},
        {"offset": 0.6893, "color": "#fff"}, {"offset": 0.7393, "color": "#fff"}, {"offset": 0.7393, "color": "#fff0"}, {"offset": 0.8321, "color": "#fff0"},
        {"offset": 0.8321, "color": "#fff"}, {"offset": 0.8821, "color": "#fff"}, {"offset": 0.8821, "color": "#fff0"}, {"offset": 0.975, "color": "#fff0"},
        {"offset": 0.975, "color": "#fff"}, {"offset": 1, "color": "#fff"}
      ]}}},
            {"transform": [{"filter": "datum.group === 'Rejected'"}], "mark": {"type": "bar", "fill": {"gradient": "linear", "x1": 0, "y1": 0, "x2": 0, "y2": 1, "stops": [
        {"offset": 0, "color": "#fff"}, {"offset": 0.0125, "color": "#fff"}, {"offset": 0.0125, "color": "#fff0"}, {"offset": 0.0357, "color": "#fff0"},
        {"offset": 0.0357, "color": "#fff"}, {"offset": 0.0482, "color": "#fff"}, {"offset": 0.0482, "color": "#fff0"}, {"offset": 0.0714, "color": "#fff0"},
        {"offset": 0.0714, "color": "#fff"}, {"offset": 0.0839, "color": "#fff"}, {"offset": 0.0839, "color": "#fff0"}, {"offset": 0.1071, "color": "#fff0"},
        {"offset": 0.1071, "color": "#fff"}, {"offset": 0.1196, "color": "#fff"}, {"offset": 0.1196, "color": "#fff0"}, {"offset": 0.1429, "color": "#fff0"},
        {"offset": 0.1429, "color": "#fff"}, {"offset": 0.1554, "color": "#fff"}, {"offset": 0.1554, "color": "#fff0"}, {"offset": 0.1786, "color": "#fff0"},
        {"offset": 0.1786, "color": "#fff"}, {"offset": 0.1911, "color": "#fff"}, {"offset": 0.1911, "color": "#fff0"}, {"offset": 0.2143, "color": "#fff0"},
        {"offset": 0.2143, "color": "#fff"}, {"offset": 0.2268, "color": "#fff"}, {"offset": 0.2268, "color": "#fff0"}, {"offset": 0.25, "color": "#fff0"},
        {"offset": 0.25, "color": "#fff"}, {"offset": 0.2625, "color": "#fff"}, {"offset": 0.2625, "color": "#fff0"}, {"offset": 0.2857, "color": "#fff0"},
        {"offset": 0.2857, "color": "#fff"}, {"offset": 0.2982, "color": "#fff"}, {"offset": 0.2982, "color": "#fff0"}, {"offset": 0.3214, "color": "#fff0"},
        {"offset": 0.3214, "color": "#fff"}, {"offset": 0.3339, "color": "#fff"}, {"offset": 0.3339, "color": "#fff0"}, {"offset": 0.3571, "color": "#fff0"},
        {"offset": 0.3571, "color": "#fff"}, {"offset": 0.3696, "color": "#fff"}, {"offset": 0.3696, "color": "#fff0"}, {"offset": 0.3929, "color": "#fff0"},
        {"offset": 0.3929, "color": "#fff"}, {"offset": 0.4054, "color": "#fff"}, {"offset": 0.4054, "color": "#fff0"}, {"offset": 0.4286, "color": "#fff0"},
        {"offset": 0.4286, "color": "#fff"}, {"offset": 0.4411, "color": "#fff"}, {"offset": 0.4411, "color": "#fff0"}, {"offset": 0.4643, "color": "#fff0"},
        {"offset": 0.4643, "color": "#fff"}, {"offset": 0.4768, "color": "#fff"}, {"offset": 0.4768, "color": "#fff0"}, {"offset": 0.5, "color": "#fff0"},
        {"offset": 0.5, "color": "#fff"}, {"offset": 0.5125, "color": "#fff"}, {"offset": 0.5125, "color": "#fff0"}, {"offset": 0.5357, "color": "#fff0"},
        {"offset": 0.5357, "color": "#fff"}, {"offset": 0.5482, "color": "#fff"}, {"offset": 0.5482, "color": "#fff0"}, {"offset": 0.5714, "color": "#fff0"},
        {"offset": 0.5714, "color": "#fff"}, {"offset": 0.5839, "color": "#fff"}, {"offset": 0.5839, "color": "#fff0"}, {"offset": 0.6071, "color": "#fff0"},
        {"offset": 0.6071, "color": "#fff"}, {"offset": 0.6196, "color": "#fff"}, {"offset": 0.6196, "color": "#fff0"}, {"offset": 0.6429, "color": "#fff0"},
        {"offset": 0.6429, "color": "#fff"}, {"offset": 0.6554, "color": "#fff"}, {"offset": 0.6554, "color": "#fff0"}, {"offset": 0.6786, "color": "#fff0"},
        {"offset": 0.6786, "color": "#fff"}, {"offset": 0.6911, "color": "#fff"}, {"offset": 0.6911, "color": "#fff0"}, {"offset": 0.7143, "color": "#fff0"},
        {"offset": 0.7143, "color": "#fff"}, {"offset": 0.7268, "color": "#fff"}, {"offset": 0.7268, "color": "#fff0"}, {"offset": 0.75, "color": "#fff0"},
        {"offset": 0.75, "color": "#fff"}, {"offset": 0.7625, "color": "#fff"}, {"offset": 0.7625, "color": "#fff0"}, {"offset": 0.7857, "color": "#fff0"},
        {"offset": 0.7857, "color": "#fff"}, {"offset": 0.7982, "color": "#fff"}, {"offset": 0.7982, "color": "#fff0"}, {"offset": 0.8214, "color": "#fff0"},
        {"offset": 0.8214, "color": "#fff"}, {"offset": 0.8339, "color": "#fff"}, {"offset": 0.8339, "color": "#fff0"}, {"offset": 0.8571, "color": "#fff0"},
        {"offset": 0.8571, "color": "#fff"}, {"offset": 0.8696, "color": "#fff"}, {"offset": 0.8696, "color": "#fff0"}, {"offset": 0.8929, "color": "#fff0"},
        {"offset": 0.8929, "color": "#fff"}, {"offset": 0.9054, "color": "#fff"}, {"offset": 0.9054, "color": "#fff0"}, {"offset": 0.9286, "color": "#fff0"},
        {"offset": 0.9286, "color": "#fff"}, {"offset": 0.9411, "color": "#fff"}, {"offset": 0.9411, "color": "#fff0"}, {"offset": 0.9643, "color": "#fff0"},
        {"offset": 0.9643, "color": "#fff"}, {"offset": 0.9768, "color": "#fff"}, {"offset": 0.9768, "color": "#fff0"}, {"offset": 1, "color": "#fff0"}
      ]}}},
            {"mark": {"type": "text", "baseline": "bottom", "dy": -8, "font": "Lato", "fontSize": 14, "color": "#595959"}, "encoding": {"text": {"field": "value", "type": "quantitative", "format": ".0%"}}}
          ]
        },
        {"mark": {"type": "rule", "color": "#f03c3c", "strokeDash": [3, 2], "strokeWidth": 1}, "encoding": {"y": {"datum": 0.432, "type": "quantitative", "scale": {"domain": [0, 0.9133], "nice": false}, "axis": {"values": [0, 0.1, 0.2, 0.3, 0.4, 0.5, 0.6, 0.7, 0.8, 0.9], "format": ".0%", "labelOverlap": false, "labelFontSize": 14}}}}
      ]
    }
  ],
  "resolve": {"scale": {"color": "independent", "y": "independent", "x": "independent"}},
  "config": {
    "view": {"stroke": null},
    "title": {"font": "DejaVu Serif", "fontSize": 24, "fontWeight": "normal", "color": "#000000", "anchor": "middle", "frame": "group", "subtitleFont": "Lato", "subtitleFontSize": 20.8, "subtitleColor": "#595959", "subtitlePadding": 38},
    "axis": {"domain": false, "ticks": false, "grid": true, "gridColor": "#d9d9d9", "gridWidth": 1, "labelFont": "Lato", "labelFontSize": 13, "labelColor": "#595959", "labelPadding": 12, "title": null},
    "legend": {"orient": "bottom", "direction": "horizontal", "offset": 22, "labelFont": "Lato", "labelFontSize": 13, "labelFontWeight": "bold", "labelColor": "#000000", "symbolType": "square", "symbolSize": 64, "symbolStrokeWidth": 0, "columnPadding": 14, "labelOffset": 3, "layout": {"bottom": {"anchor": "middle"}}}
  }
}
